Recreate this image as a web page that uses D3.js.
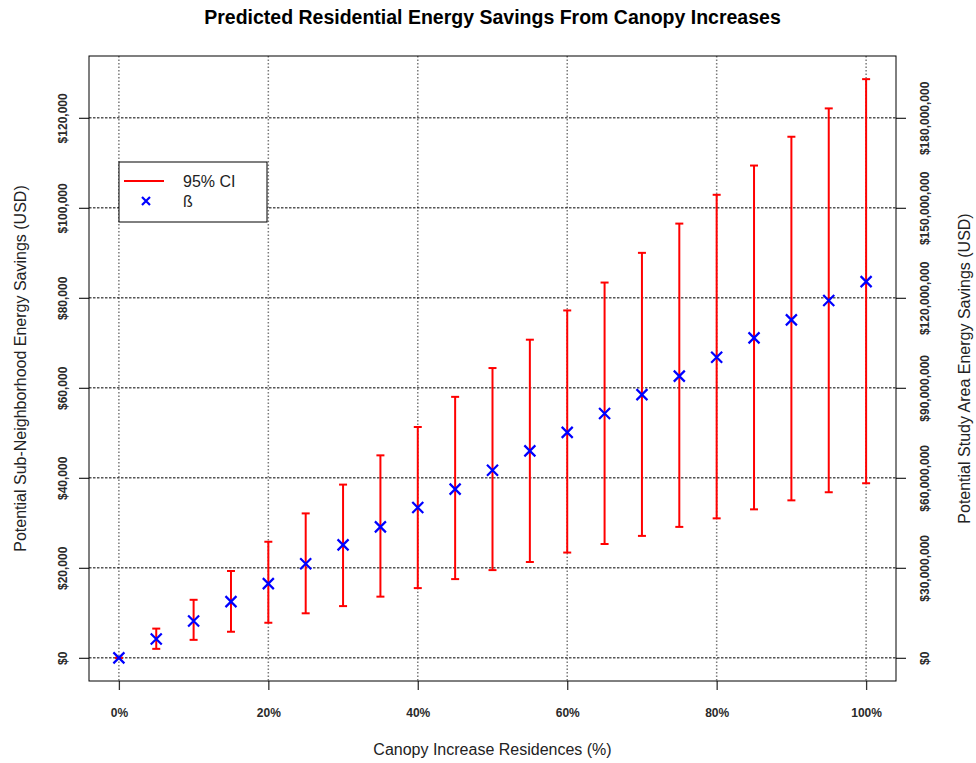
<!DOCTYPE html>
<html>
<head>
<meta charset="utf-8">
<script src="https://cdn.jsdelivr.net/npm/d3@7"></script>
<style>
  body { margin: 0; background: #fff; }
  svg { font-family: "Liberation Sans", Arial, sans-serif; }
</style>
</head>
<body>
<div id="chart"></div>
<script>
// canopy increase (%) and savings in USD (sub-neighborhood)
var canopy = [0, 5, 10, 15, 20, 25, 30, 35, 40, 45, 50, 55, 60, 65, 70, 75, 80, 85, 90, 95, 100];
var beta  = [0, 4200, 8200, 12500, 16500, 20900, 25100, 29100, 33400, 37500, 41700, 46000, 50100, 54300, 58500, 62600, 66800, 71100, 75100, 79400, 83600];
var ciLow = [0, 2000, 4000, 5800, 7800, 9900, 11500, 13600, 15500, 17500, 19500, 21300, 23400, 25300, 27100, 29100, 31000, 33000, 35000, 36800, 38800];
var ciHigh = [0, 6500, 12900, 19300, 25800, 32100, 38500, 45000, 51300, 58000, 64400, 70700, 77200, 83400, 90000, 96500, 102900, 109400, 115800, 122100, 128600];

var xTicks = [0, 20, 40, 60, 80, 100];
var leftTicks = [0, 20000, 40000, 60000, 80000, 100000, 120000];
var rightTicks = [0, 30000000, 60000000, 90000000, 120000000, 150000000, 180000000];
var studyFactor = 1500; // study area = sub-neighborhood * 1500

var legendLabels = ["95% CI", "\u00df"];

var width = 976, height = 763;
var box = {left: 89, right: 896, top: 56, bottom: 681};

var svg = d3.select("#chart").append("svg")
    .attr("width", width)
    .attr("height", height);

// R style 4% padding on the ranges
var x = d3.scaleLinear().domain([-4, 104]).range([box.left, box.right]);
var yMax = d3.max(ciHigh);
var y = d3.scaleLinear().domain([-0.04 * yMax, 1.04 * yMax]).range([box.bottom, box.top]);
var y2 = d3.scaleLinear().domain(y.domain().map(function(d) { return d * studyFactor; })).range([box.bottom, box.top]);

var money = d3.format("$,.0f");

// grid
svg.append("g").selectAll("line")
    .data(xTicks)
    .enter()
    .append("line")
    .attr("x1", function(d) { return x(d); })
    .attr("x2", function(d) { return x(d); })
    .attr("y1", box.top)
    .attr("y2", box.bottom)
    .attr("stroke", "#7a7a7a")
    .attr("stroke-width", 1.5)
    .attr("stroke-dasharray", "1.5,2");

svg.append("g").selectAll("line")
    .data(leftTicks)
    .enter()
    .append("line")
    .attr("x1", box.left)
    .attr("x2", box.right)
    .attr("y1", function(d) { return y(d); })
    .attr("y2", function(d) { return y(d); })
    .attr("stroke", "#000")
    .attr("stroke-width", 1)
    .attr("stroke-dasharray", "2.5,1.5");

// axes
var bottomAxis = svg.append("g")
    .attr("transform", "translate(0," + box.bottom + ")")
    .call(d3.axisBottom(x).tickValues(xTicks).tickSize(9).tickFormat(function(d) { return d + "%"; }));

var leftAxis = svg.append("g")
    .attr("transform", "translate(" + box.left + ",0)")
    .call(d3.axisLeft(y).tickValues(leftTicks).tickSize(10).tickFormat(money));

var rightAxis = svg.append("g")
    .attr("transform", "translate(" + box.right + ",0)")
    .call(d3.axisRight(y2).tickValues(rightTicks).tickSize(10).tickFormat(money));

[bottomAxis, leftAxis, rightAxis].forEach(function(g) {
    g.select(".domain").remove();
    g.selectAll(".tick line").attr("stroke", "#333").attr("stroke-width", 1.3);
    g.selectAll("text")
        .attr("fill", "#2a2a2a")
        .style("font-size", "12px")
        .style("font-weight", "bold");
});

bottomAxis.selectAll("text").attr("y", 27);

leftAxis.selectAll(".tick text")
    .attr("text-anchor", "middle")
    .attr("x", 0)
    .attr("dy", 0)
    .attr("transform", "translate(-26,0) rotate(-90)")
    .attr("y", 4);

rightAxis.selectAll(".tick text")
    .attr("text-anchor", "middle")
    .attr("x", 0)
    .attr("dy", 0)
    .attr("transform", "translate(29,0) rotate(-90)")
    .attr("y", 4);

// plot frame
svg.append("rect")
    .attr("x", box.left)
    .attr("y", box.top)
    .attr("width", box.right - box.left)
    .attr("height", box.bottom - box.top)
    .attr("fill", "none")
    .attr("stroke", "#000")
    .attr("stroke-width", 1);

// error bars
var bars = svg.append("g").selectAll("g")
    .data(canopy)
    .enter()
    .append("g")
    .attr("stroke", "#ff0000")
    .attr("stroke-width", 2);

bars.append("line")
    .attr("x1", function(d) { return x(d); })
    .attr("x2", function(d) { return x(d); })
    .attr("y1", function(d, i) { return y(ciLow[i]); })
    .attr("y2", function(d, i) { return y(ciHigh[i]); });

bars.append("line")
    .attr("x1", function(d) { return x(d) - 4; })
    .attr("x2", function(d) { return x(d) + 4; })
    .attr("y1", function(d, i) { return y(ciLow[i]); })
    .attr("y2", function(d, i) { return y(ciLow[i]); });

bars.append("line")
    .attr("x1", function(d) { return x(d) - 4; })
    .attr("x2", function(d) { return x(d) + 4; })
    .attr("y1", function(d, i) { return y(ciHigh[i]); })
    .attr("y2", function(d, i) { return y(ciHigh[i]); });

// beta points drawn as x
function cross(g, cx, cy, r) {
    g.append("path")
        .attr("d", "M" + (cx - r) + "," + (cy - r) + "L" + (cx + r) + "," + (cy + r) +
                   "M" + (cx - r) + "," + (cy + r) + "L" + (cx + r) + "," + (cy - r))
        .attr("stroke", "#0000ff")
        .attr("stroke-width", 2.2)
        .attr("fill", "none");
}

var pts = svg.append("g");
canopy.forEach(function(d, i) {
    cross(pts, x(d), y(beta[i]), 5.5);
});

// legend
var lg = svg.append("g");
lg.append("rect")
    .attr("x", 119).attr("y", 162)
    .attr("width", 148).attr("height", 60)
    .attr("fill", "#fff")
    .attr("stroke", "#000")
    .attr("stroke-width", 1);
lg.append("line")
    .attr("x1", 124).attr("x2", 164)
    .attr("y1", 181).attr("y2", 181)
    .attr("stroke", "#ff0000")
    .attr("stroke-width", 2);
cross(lg, 146, 201, 4);
lg.selectAll("text")
    .data(legendLabels)
    .enter()
    .append("text")
    .attr("x", 183)
    .attr("y", function(d, i) { return 187 + i * 20; })
    .style("font-size", "16px")
    .attr("fill", "#222")
    .text(function(d) { return d; });

// titles
svg.append("text")
    .attr("x", (box.left + box.right) / 2)
    .attr("y", 24)
    .attr("text-anchor", "middle")
    .style("font-size", "19.5px")
    .style("font-weight", "bold")
    .text("Predicted Residential Energy Savings From Canopy Increases");

svg.append("text")
    .attr("x", (box.left + box.right) / 2)
    .attr("y", 755)
    .attr("text-anchor", "middle")
    .style("font-size", "16px")
    .attr("fill", "#222")
    .text("Canopy Increase Residences (%)");

svg.append("text")
    .attr("transform", "translate(26," + (box.top + box.bottom) / 2 + ") rotate(-90)")
    .attr("text-anchor", "middle")
    .style("font-size", "16px")
    .attr("fill", "#222")
    .text("Potential Sub-Neighborhood Energy Savings (USD)");

svg.append("text")
    .attr("transform", "translate(970," + (box.top + box.bottom) / 2 + ") rotate(-90)")
    .attr("text-anchor", "middle")
    .style("font-size", "16px")
    .attr("fill", "#222")
    .text("Potential Study Area Energy Savings (USD)");
</script>
</body>
</html>
